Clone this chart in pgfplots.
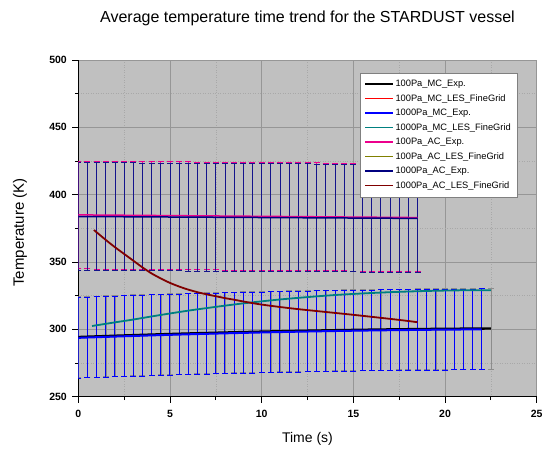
\documentclass[border=0pt]{standalone}
\usepackage{fontspec}
\setmainfont{Liberation Sans}
\usepackage{pgfplots}
\usepackage{pgfplotstable}
\pgfplotsset{compat=1.18}
\definecolor{bggray}{RGB}{192,192,192}
\definecolor{gridmaj}{RGB}{150,150,150}
\definecolor{gridmin}{RGB}{168,168,168}
\definecolor{tealc}{RGB}{0,128,128}
\definecolor{olivec}{RGB}{128,128,0}
\definecolor{navyc}{RGB}{0,0,128}
\definecolor{darkredc}{RGB}{128,0,0}
\definecolor{errgray}{RGB}{140,140,140}
\definecolor{navybar}{RGB}{20,20,140}
% 100Pa_MC_Exp.
\pgfplotstableread{
x y
0 294.30
0.5 294.55
1 294.79
1.5 295.02
2 295.25
2.5 295.48
3 295.70
3.5 295.92
4 296.13
4.5 296.34
5 296.54
5.5 296.74
6 296.93
6.5 297.12
7 297.30
7.5 297.48
8 297.65
8.5 297.82
9 297.99
9.5 298.15
10 298.30
10.5 298.45
11 298.60
11.5 298.74
12 298.87
12.5 299.00
13 299.13
13.5 299.25
14 299.37
14.5 299.48
15 299.59
15.5 299.69
16 299.79
16.5 299.88
17 299.97
17.5 300.05
18 300.13
18.5 300.21
19 300.28
19.5 300.34
20 300.40
20.5 300.46
21 300.51
21.5 300.55
22 300.59
22.5 300.63
}\mcA
% 1000Pa_MC_Exp.
\pgfplotstableread{
x y
0 293.70
0.5 293.95
1 294.19
1.5 294.42
2 294.65
2.5 294.88
3 295.10
3.5 295.32
4 295.53
4.5 295.74
5 295.94
5.5 296.14
6 296.33
6.5 296.52
7 296.70
7.5 296.88
8 297.05
8.5 297.22
9 297.39
9.5 297.55
10 297.70
10.5 297.85
11 298.00
11.5 298.14
12 298.27
12.5 298.40
13 298.53
13.5 298.65
14 298.77
14.5 298.88
15 298.99
15.5 299.09
16 299.19
16.5 299.28
17 299.37
17.5 299.45
18 299.53
18.5 299.61
19 299.68
19.5 299.74
20 299.80
20.5 299.86
21 299.91
21.5 299.95
22 299.99
}\mcB
% 100Pa_AC_Exp.
\pgfplotstableread{
x y
0 385.00
0.5 384.95
1 384.89
1.5 384.84
2 384.78
2.5 384.73
3 384.68
3.5 384.62
4 384.57
4.5 384.51
5 384.46
5.5 384.41
6 384.35
6.5 384.30
7 384.24
7.5 384.19
8 384.14
8.5 384.08
9 384.03
9.5 383.97
10 383.92
10.5 383.87
11 383.81
11.5 383.76
12 383.70
12.5 383.65
13 383.60
13.5 383.54
14 383.49
14.5 383.43
15 383.38
15.5 383.33
16 383.27
16.5 383.22
17 383.16
17.5 383.11
18 383.06
18.5 383.00
}\acA
% 1000Pa_AC_Exp.
\pgfplotstableread{
x y
0 383.80
0.5 383.76
1 383.72
1.5 383.69
2 383.65
2.5 383.61
3 383.57
3.5 383.53
4 383.50
4.5 383.46
5 383.42
5.5 383.38
6 383.34
6.5 383.31
7 383.27
7.5 383.23
8 383.19
8.5 383.15
9 383.12
9.5 383.08
10 383.04
10.5 383.00
11 382.96
11.5 382.93
12 382.89
12.5 382.85
13 382.81
13.5 382.77
14 382.74
14.5 382.70
15 382.66
15.5 382.62
16 382.58
16.5 382.55
17 382.51
17.5 382.47
18 382.43
18.5 382.39
}\acB
% 1000Pa_MC_LES_FineGrid
\pgfplotstableread{
x y
0.75 302.5
2 305.2
3 307.3
4 309.6
5 311.8
6 313.9
7 315.8
8 317.6
9 319.3
10 320.8
11 322.2
12 323.4
13 324.5
14 325.5
15 326.3
16 327.0
17 327.6
18 328.1
19 328.5
20 328.8
21 329.0
22.5 329.1
}\lesMC
% 1000Pa_AC_LES_FineGrid
\pgfplotstableread{
x y
0.85 373.8
1.5 366.4
2.0 361.0
2.5 356.0
3.0 351.0
3.5 346.0
4.0 341.5
4.5 337.8
5.0 334.5
5.5 331.8
6.0 329.5
6.5 327.6
7.0 326.0
7.5 324.6
8.0 323.2
8.5 322.0
9.0 320.7
9.5 319.5
10.0 318.4
11.0 316.6
12.0 315.0
13.0 313.6
14.0 312.2
15.0 310.8
16.0 309.3
17.0 307.8
18.0 306.2
18.5 305.3
}\lesAC
\begin{document}
\begin{tikzpicture}
\begin{axis}[
  at={(0,0)}, anchor=south west,
  scale only axis, width=458.4bp, height=336.7bp,
  xmin=0, xmax=25, ymin=250, ymax=500,
  xtick={0,5,10,15,20,25}, ytick={250,300,350,400,450,500},
  minor x tick num=1, minor y tick num=1,
  axis lines*=left,
  axis line style={line width=0.8bp, black},
  tick align=outside,
  major tick length=6bp, minor tick length=3.5bp,
  tick style={black, line width=0.8bp},
  axis background/.style={fill=bggray},
  grid=both,
  major grid style={color=gridmaj, line width=0.6bp, solid},
  minor grid style={color=gridmin, line width=0.5bp, dotted},
  /pgf/number format/assume math mode=true,
  ticklabel style={font=\fontsize{10.5bp}{12bp}\selectfont\bfseries},
  xticklabel style={yshift=-4bp},
  yticklabel style={xshift=-2bp},
  xlabel={Time (s)},
  ylabel={Temperature (K)},
  xlabel style={at={(axis description cs:0.5,-0.126)}, anchor=center, font=\fontsize{14bp}{16bp}\selectfont},
  ylabel style={at={(axis description cs:-0.127,0.488)}, anchor=center, rotate=0, font=\fontsize{15bp}{17bp}\selectfont},
  title={Average temperature time trend for the STARDUST vessel},
  title style={at={(axis description cs:0.5,1)}, anchor=base, yshift=32bp, font=\fontsize{16bp}{18bp}\selectfont},
  legend style={at={(axis description cs:1,1)}, anchor=north east, xshift=-19.7bp, yshift=-12.7bp,
    draw=gray, fill=white, font=\fontsize{9.3bp}{11bp}\selectfont,
    inner xsep=4.5bp, inner ysep=4bp, row sep=0bp,
    nodes={text height=7.3bp, text depth=2.6bp, inner ysep=2.3bp, inner xsep=1.5bp}},
  legend cell align=left,
  legend image code/.code={\draw[#1, line width=1.5bp] (0bp,0bp) -- (28bp,0bp);},
  ebar/.style 2 args={draw=none, no markers, forget plot,
    error bars/y dir=both,
    error bars/error bar style={draw=#1, line width=#2, solid},
    error bars/error mark options={draw=#1, rotate=90, mark size=3bp, line width=#2}},
]
% error bars (drawn first)
\addplot[ebar={errgray}{0.5bp}, error bars/y fixed=30] table {\mcA};
\addplot[ebar={blue}{1bp}, error bars/y fixed=30] table {\mcB};
\addplot[ebar={magenta}{0.8bp}, error bars/y fixed=40] table {\acA};
\addplot[ebar={navybar}{0.9bp}, error bars/y fixed=40] table {\acB};
% lines
\addplot[black, line width=2.4bp, no markers] table {\mcA};
\addlegendentry{100Pa\_MC\_Exp.}
\addlegendimage{red}
\addlegendentry{100Pa\_MC\_LES\_FineGrid}
\addplot[blue, line width=2bp, no markers] table {\mcB};
\addlegendentry{1000Pa\_MC\_Exp.}
\addplot[tealc, line width=1.8bp, no markers, smooth] table {\lesMC};
\addlegendentry{1000Pa\_MC\_LES\_FineGrid}
\addplot[magenta, line width=1.5bp, no markers] table {\acA};
\addlegendentry{100Pa\_AC\_Exp.}
\addlegendimage{olivec}
\addlegendentry{100Pa\_AC\_LES\_FineGrid}
\addplot[navyc, line width=1.5bp, no markers] table {\acB};
\addlegendentry{1000Pa\_AC\_Exp.}
\addplot[darkredc, line width=1.8bp, no markers, smooth] table {\lesAC};
\addlegendentry{1000Pa\_AC\_LES\_FineGrid}
\end{axis}
\pgfresetboundingbox
\path (-78.3bp,-54.3bp) rectangle (464.7bp,396.7bp);
\end{tikzpicture}
\end{document}
